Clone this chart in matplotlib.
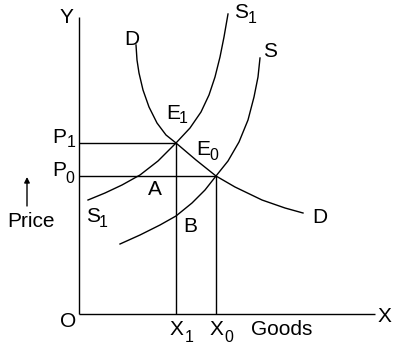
import matplotlib
matplotlib.use("Agg")
import matplotlib.pyplot as plt

plt.rcParams["font.family"] = ["Liberation Sans", "DejaVu Sans"]

# curves (origin at O, y upward)
d_x = [57, 58, 60, 64, 70, 78, 87, 97, 117, 137, 156, 183, 206, 224]
d_y = [269, 254, 241, 224, 207, 191, 179, 171, 154, 138, 127, 114, 106, 101]

s1_x = [9, 26, 43, 61, 79, 97, 111, 122, 130, 136, 141, 145, 149]
s1_y = [114, 121, 129, 139, 153, 171, 186, 202, 219, 237, 257, 277, 300]

s_x = [41, 61, 81, 97, 113, 126, 137, 149, 160, 169, 175, 179, 181]
s_y = [70, 79, 89, 98, 111, 124, 138, 153, 172, 194, 217, 237, 256]

# equilibria
e1 = (97, 171)
e0 = (137, 138)

x_axis_len = 296
y_axis_len = 297

LW = 1.0
FS = 15
SUB = 11.5


def label(ax, x, y, main, sub=None, sx=None, sy=None):
    ax.text(x, y, main, fontsize=FS, ha="left", va="baseline")
    if sub is not None:
        ax.text(sx, sy, sub, fontsize=SUB, ha="left", va="baseline")


fig = plt.figure(figsize=(3.95, 3.46), dpi=100)
ax = fig.add_axes([0, 0, 1, 1])
ax.set_xlim(-79, 316)
ax.set_ylim(-32, 314)
ax.axis("off")

kw = dict(color="black", lw=LW, solid_capstyle="butt")
ckw = dict(color="black", lw=LW, solid_joinstyle="round")

# axes
ax.plot([0, 0], [0, y_axis_len], **kw)
ax.plot([0, x_axis_len], [0, 0], **kw)

# guide lines
ax.plot([0, e1[0]], [e1[1], e1[1]], **kw)
ax.plot([0, e0[0]], [e0[1], e0[1]], **kw)
ax.plot([e1[0], e1[0]], [0, e1[1]], **kw)
ax.plot([e0[0], e0[0]], [0, e0[1]], **kw)

# curves
ax.plot(d_x, d_y, **ckw)
ax.plot(s1_x, s1_y, **ckw)
ax.plot(s_x, s_y, **ckw)

# price arrow
ax.annotate("", xy=(-52, 137), xytext=(-52, 108),
            arrowprops=dict(arrowstyle="-|>", color="black", lw=LW,
                            mutation_scale=8, shrinkA=0, shrinkB=0))

label(ax, -19, 291, "Y")
label(ax, 45, 269, "D")
label(ax, 87, 195, "E", "1", 100, 191)
label(ax, -27, 171, "P", "1", -12, 167)
label(ax, -27, 138, "P", "0", -14, 131)
label(ax, 69, 119, "A")
label(ax, 155, 296, "S", "1", 169, 291)
label(ax, 184, 257, "S")
label(ax, 117, 159, "E", "0", 130, 154)
label(ax, -72, 87, "Price")
label(ax, 7, 92, "S", "1", 20, 87)
label(ax, 104, 82, "B")
label(ax, 233, 91, "D")
label(ax, -19, -13, "O")
label(ax, 91, -21, "X", "1", 106, -28)
label(ax, 131, -21, "X", "0", 145, -28)
label(ax, 172, -21, "Goods")
label(ax, 299, -8, "X")

fig.savefig("out.png", dpi=100)
